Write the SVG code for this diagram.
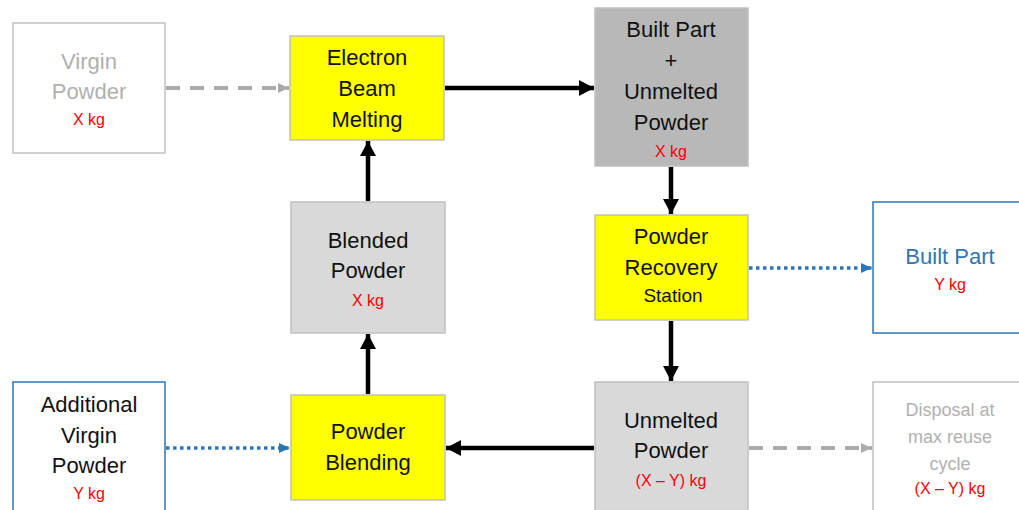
<svg xmlns="http://www.w3.org/2000/svg" width="1019" height="510" viewBox="0 0 1019 510">
<style>
text{font-family:"Liberation Sans",Arial,sans-serif;text-anchor:middle}
.t{font-size:22px;fill:#111}
.g{font-size:22px;fill:#b0b0b0}
.b{font-size:22px;fill:#2e75b6}
.s{font-size:19px;fill:#111}
.gs{font-size:18px;fill:#b0b0b0}
.r{font-size:16px;fill:#ff0000}
.box{stroke:#c0c0c0;stroke-width:1.5}
.blue{fill:#fff;stroke:#2e75b6;stroke-width:1.5}
.solid{stroke:#000;stroke-width:4.5;fill:none}
.dash{stroke:#ababab;stroke-width:4;stroke-dasharray:14 10;fill:none}
.dot{stroke:#2e75b6;stroke-width:3.5;stroke-dasharray:3.5 3.5;fill:none}
</style>
<defs>
<marker id="ak" markerUnits="userSpaceOnUse" markerWidth="18" markerHeight="18" refX="15" refY="9" orient="auto"><path d="M0,1 L15,9 L0,17 Z" fill="#000"/></marker>
<marker id="ag" markerUnits="userSpaceOnUse" markerWidth="12" markerHeight="12" refX="11" refY="6" orient="auto"><path d="M0,1 L11,6 L0,11 Z" fill="#ababab"/></marker>
<marker id="ab" markerUnits="userSpaceOnUse" markerWidth="12" markerHeight="12" refX="11" refY="6" orient="auto"><path d="M0,1 L11,6 L0,11 Z" fill="#2e75b6"/></marker>
</defs>
<rect width="1019" height="510" fill="#fff"/>
<g id="connectors">
<line class="dash" x1="166" y1="88" x2="289" y2="88" marker-end="url(#ag)"/>
<line class="solid" x1="445" y1="88" x2="594" y2="88" marker-end="url(#ak)"/>
<line class="solid" x1="671" y1="167" x2="671" y2="214" marker-end="url(#ak)"/>
<line class="dot" x1="749" y1="268" x2="872" y2="268" marker-end="url(#ab)"/>
<line class="solid" x1="671" y1="321" x2="671" y2="381" marker-end="url(#ak)"/>
<line class="solid" x1="594" y1="448" x2="446" y2="448" marker-end="url(#ak)"/>
<line class="solid" x1="368" y1="394" x2="368" y2="334" marker-end="url(#ak)"/>
<line class="solid" x1="368" y1="201" x2="368" y2="141" marker-end="url(#ak)"/>
<line class="dot" x1="166" y1="448" x2="290" y2="448" marker-end="url(#ab)"/>
<line class="dash" x1="749" y1="448" x2="872" y2="448" marker-end="url(#ag)"/>
</g>
<g id="virgin">
<rect class="box" x="13" y="23" width="152" height="130" fill="#fff"/>
<text class="g" x="89" y="69">Virgin</text>
<text class="g" x="89" y="99">Powder</text>
<text class="r" x="89" y="125">X kg</text>
</g>
<g id="ebm">
<rect class="box" x="290" y="36" width="154" height="104" fill="#ffff00"/>
<text class="t" x="367" y="65">Electron</text>
<text class="t" x="367" y="96">Beam</text>
<text class="t" x="367" y="127">Melting</text>
</g>
<g id="built-unmelted">
<rect class="box" x="595" y="8" width="153" height="158" fill="#b8b8b8"/>
<text class="t" x="671" y="37">Built Part</text>
<text class="t" x="671" y="68">+</text>
<text class="t" x="671" y="99">Unmelted</text>
<text class="t" x="671" y="130">Powder</text>
<text class="r" x="671" y="157">X kg</text>
</g>
<g id="recovery">
<rect class="box" x="595" y="215" width="153" height="105" fill="#ffff00"/>
<text class="t" x="671" y="244">Powder</text>
<text class="t" x="671" y="275">Recovery</text>
<text class="s" x="673" y="302">Station</text>
</g>
<g id="built-part">
<rect class="blue" x="873" y="202" width="150" height="131"/>
<text class="b" x="950" y="264">Built Part</text>
<text class="r" x="950" y="290">Y kg</text>
</g>
<g id="blended">
<rect class="box" x="291" y="202" width="154" height="131" fill="#d9d9d9"/>
<text class="t" x="368" y="248">Blended</text>
<text class="t" x="368" y="278">Powder</text>
<text class="r" x="368" y="306">X kg</text>
</g>
<g id="additional">
<rect class="blue" x="13" y="382" width="152" height="135"/>
<text class="t" x="89" y="412">Additional</text>
<text class="t" x="89" y="443">Virgin</text>
<text class="t" x="89" y="473">Powder</text>
<text class="r" x="89" y="499">Y kg</text>
</g>
<g id="blending">
<rect class="box" x="291" y="395" width="154" height="105" fill="#ffff00"/>
<text class="t" x="368" y="439">Powder</text>
<text class="t" x="368" y="470">Blending</text>
</g>
<g id="unmelted">
<rect class="box" x="595" y="382" width="153" height="135" fill="#d9d9d9"/>
<text class="t" x="671" y="428">Unmelted</text>
<text class="t" x="671" y="458">Powder</text>
<text class="r" x="671" y="486">(X – Y) kg</text>
</g>
<g id="disposal">
<rect class="box" x="873" y="382" width="150" height="135" fill="#fff"/>
<text class="gs" x="950" y="416">Disposal at</text>
<text class="gs" x="950" y="443">max reuse</text>
<text class="gs" x="950" y="470">cycle</text>
<text class="r" x="950" y="494">(X – Y) kg</text>
</g>
</svg>
